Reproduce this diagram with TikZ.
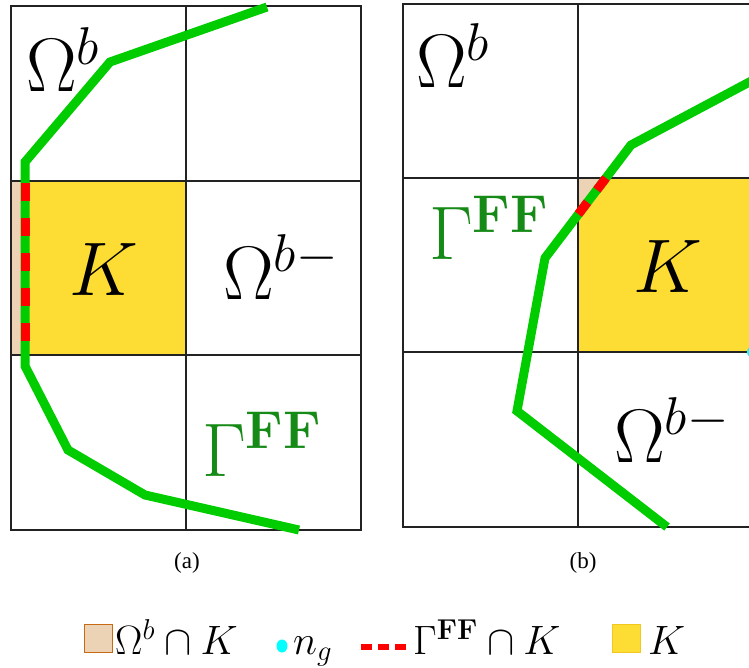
\RequirePackage{fix-cm}
\documentclass[tikz,border=0pt]{standalone}
\usepackage{amsmath}
\usepackage[no-math]{fontspec}
\newfontfamily\capfont{Liberation Serif}
\definecolor{gline}{HTML}{00CC00}
\definecolor{gtext}{HTML}{168A16}
\definecolor{yel}{HTML}{FDDC33}
\definecolor{yeledge}{HTML}{F2C81E}
\definecolor{tanc}{HTML}{ECD3B5}
\definecolor{tanedge}{HTML}{C86A14}
\definecolor{redc}{HTML}{FF0000}
\definecolor{cyanc}{HTML}{00FFFF}
\definecolor{gridc}{HTML}{222222}
\begin{document}
\begin{tikzpicture}[x=1pt,y=-1pt,
  gridline/.style={draw=gridc, line width=1.3pt},
  bnd/.style={draw=gline, line width=9pt},
  redbnd/.style={draw=redc, line width=9pt},
  kfill/.style={fill=yel, draw=yeledge, line width=0.8pt},
  tanfill/.style={fill=tanc, draw=tanedge, line width=0.9pt},
  bigl/.style={inner sep=0pt, font=\fontsize{76}{80}\selectfont},
  greenl/.style={bigl, text=gtext},
  capl/.style={inner sep=0pt, font=\capfont\fontsize{23}{26}\selectfont},
  legl/.style={inner sep=0pt, font=\fontsize{41}{44}\selectfont, anchor=base west},
]
\useasboundingbox (0,0) rectangle (749,668);
\clip (0,0) rectangle (749,668);

% ---------------- panel (a) ----------------
\path[tanfill] (11.5,181) rectangle (25,355);
\path[kfill] (25,181) rectangle (186,355);
\draw[gridline] (11,6) rectangle (361,530);
\draw[gridline] (186,6) -- (186,530);
\draw[gridline] (11,181) -- (361,181);
\draw[gridline] (11,355) -- (361,355);
\draw[bnd] (267,7) -- (110,62) -- (25,162) -- (25,366) -- (68,450) -- (145,495) -- (299,530);
\draw[redbnd, dash pattern=on 18pt off 17pt] (25,183) -- (25,355);

\node[bigl, anchor=base west] (oba) at (26,92) {$\Omega^b$};
\node[bigl, anchor=base] (ka) at (104,295) {$K$};
\node[bigl, anchor=base west] (obma) at (223,299) {$\Omega^{b-}$};
\node[greenl, anchor=base west] (ga) at (202,476) {$\Gamma^{\mathbf{FF}}$};
\node[capl, anchor=base] (capa) at (187,568) {(a)};

% ---------------- panel (b) ----------------
\path[kfill] (578,178) rectangle (753,352);
\path[tanfill] (578,178) -- (606,178) -- (578,214.6) -- cycle;
\draw[gridline] (403,4) rectangle (753,527);
\draw[gridline] (578,4) -- (578,527);
\draw[gridline] (403,178) -- (753,178);
\draw[gridline] (403,352) -- (753,352);
\draw[bnd] (757,78) -- (631,145) -- (545,258) -- (517,411) -- (667,527);
\draw[redbnd, dash pattern=on 15pt off 15.5pt] (606,178) -- (578,214.6);
\fill[cyanc] (753,352) circle (6);

\node[bigl, anchor=base west] (obb) at (416,88) {$\Omega^b$};
\node[bigl, anchor=base] (kb) at (668,292) {$K$};
\node[bigl, anchor=base west] (obmb) at (614,462) {$\Omega^{b-}$};
\node[greenl, anchor=base west] (gb) at (429,260) {$\Gamma^{\mathbf{FF}}$};
\node[capl, anchor=base] (capb) at (583,568) {(b)};

% ---------------- legend ----------------
\path[tanfill] (84.5,624.5) rectangle (112.5,652.5);
\node[legl] (l1) at (115,654) {$\Omega^b\cap K$};
\fill[cyanc] (282,646) ellipse (5.5 and 6.5);
\node[legl] (l2) at (293,654) {$n_g$};
\draw[draw=redc, line width=6pt, dash pattern=on 11pt off 6pt] (361,647) -- (406,647);
\node[legl] (l3) at (413,654) {$\Gamma^{\mathbf{FF}}\cap K$};
\path[kfill] (612,624.5) rectangle (640,652.5);
\node[legl] (l4) at (648,654) {$K$};
\end{tikzpicture}
\end{document}
